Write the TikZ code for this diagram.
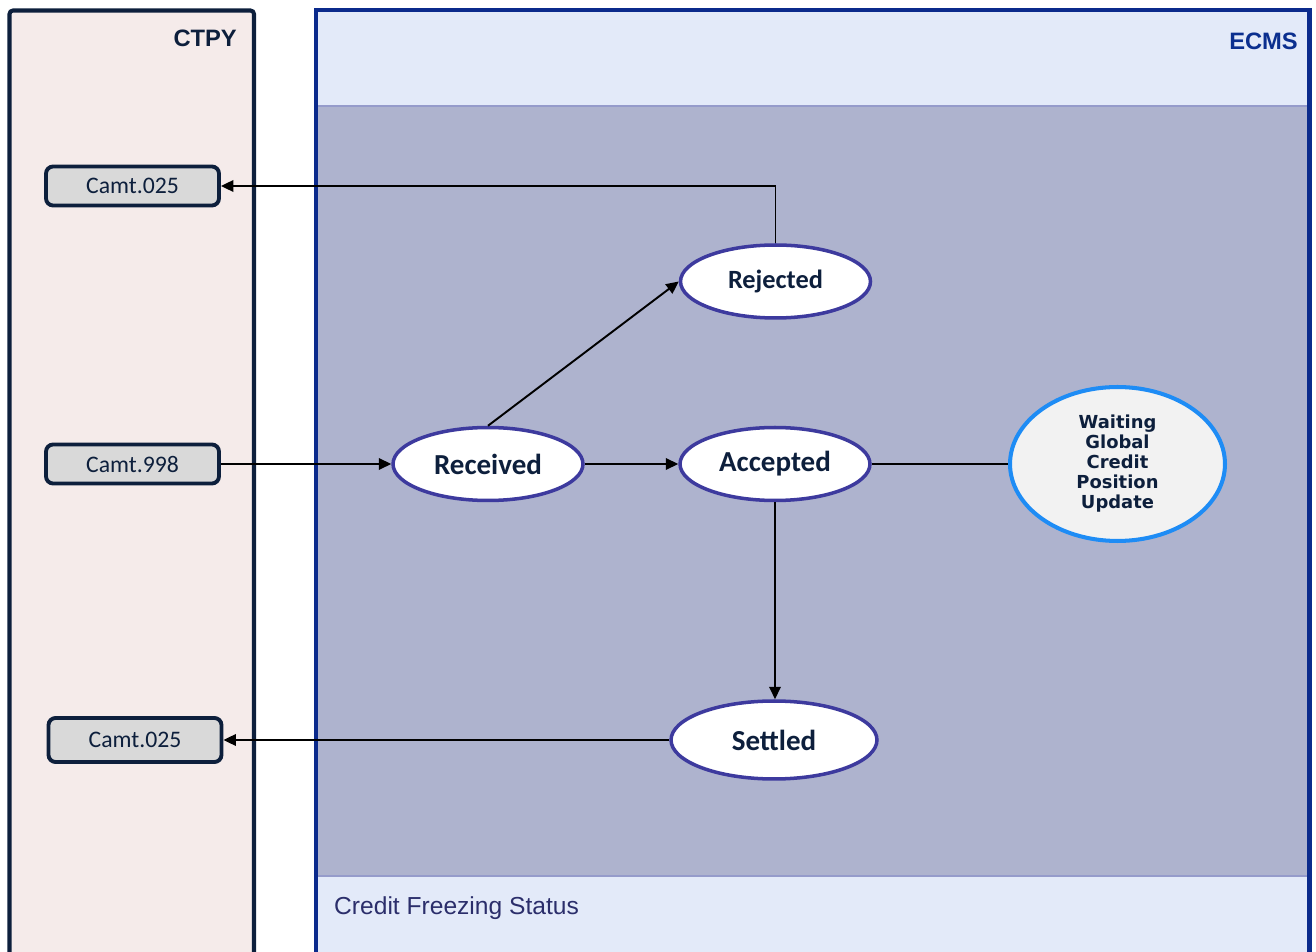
\documentclass[tikz,border=0pt]{standalone}
\usepackage{fontspec}
\setmainfont{Carlito}
\newfontfamily\arialfont{Liberation Sans}
\newfontfamily\verdanafont{DejaVu Sans}
\usepackage{tikz}
\usetikzlibrary{shapes.geometric, arrows.meta, positioning, calc}
\definecolor{ctpyfill}{HTML}{F5EBEA}
\definecolor{ctpyline}{HTML}{0D1F3C}
\definecolor{ecmsline}{HTML}{0B2A8C}
\definecolor{ecmsband}{HTML}{E3EAF9}
\definecolor{ecmsbody}{HTML}{AEB3CE}
\definecolor{ecmssep}{HTML}{959BCB}
\definecolor{msgfill}{HTML}{D9D9D9}
\definecolor{statusline}{HTML}{3D3A9E}
\definecolor{waitline}{HTML}{1E8CF5}
\definecolor{waitfill}{HTML}{F2F2F2}
\definecolor{darktext}{HTML}{0D1F3C}
\definecolor{ecmstext}{HTML}{0B2F8F}
\definecolor{notetext}{HTML}{2B2E6B}

\begin{document}
\begin{tikzpicture}[
    x=0.02cm, y=-0.02cm,
    msgbox/.style={
        rectangle,
        rounded corners=4pt,
        draw=ctpyline,
        fill=msgfill,
        line width=2.2pt,
        minimum width=3.46cm,
        minimum height=0.78cm,
        text=darktext,
        font=\fontsize{13.5}{16}\selectfont
    },
    status/.style={
        ellipse,
        draw=statusline,
        fill=white,
        line width=2pt,
        minimum width=3.8cm,
        minimum height=1.46cm,
        inner sep=0pt,
        text=darktext,
        font=\bfseries\fontsize{16.5}{20}\selectfont
    },
    waitstate/.style={
        ellipse,
        draw=waitline,
        fill=waitfill,
        line width=2.3pt,
        minimum width=4.3cm,
        minimum height=3.08cm,
        inner sep=0pt,
        align=center,
        text=darktext,
        font=\verdanafont\bfseries\fontsize{10.2}{11.4}\selectfont
    },
    myarrow/.style={
        -{Triangle[length=2.5mm, width=2.3mm]},
        line width=1.1pt,
        draw=black
    },
    myline/.style={
        line width=1.1pt,
        draw=black
    },
    lanetitle/.style={
        anchor=east,
        font=\arialfont\bfseries\fontsize{13.5}{16}\selectfont
    }
]
\useasboundingbox (0,0) rectangle (1316,952);

% Lanes
\draw[ctpyline, fill=ctpyfill, line width=2.3pt, rounded corners=2pt] (9.5,10.5) rectangle (254,985);
\fill[ecmsband] (316,10) rectangle (1309.5,985);
\fill[ecmsbody] (316,106) rectangle (1309.5,876);
\draw[ecmssep, line width=1.5pt] (316,106) -- (1309.5,106);
\draw[ecmssep, line width=1.5pt] (316,876) -- (1309.5,876);
\draw[ecmsline, line width=2.3pt] (316,985) -- (316,10) -- (1309.5,10) -- (1309.5,985);

% Lane titles
\node[lanetitle, text=ctpyline] (ctpy) at (243,38) {CTPY};
\node[lanetitle, text=ecmstext] (ecms) at (1304,41) {ECMS};
\node[anchor=west, text=notetext, font=\arialfont\fontsize{14}{16}\selectfont] (freeze) at (328,908) {Credit Freezing Status};

% Messages
\node[msgbox] (camtA) at (132.5,186) {Camt.025};
\node[msgbox] (camtB) at (132.5,464) {Camt.998};
\node[msgbox, minimum height=0.88cm] (camtC) at (135,740) {Camt.025};

% States
\node[status] (recv) at (488,464) {Received};
\node[status] (acc) at (775,464) {Accepted};
\node[status, font=\bfseries\fontsize{15}{18}\selectfont] (rej) at (775.5,281.5) {Rejected};
\node[status, minimum width=4.12cm, minimum height=1.56cm] (sett) at (774,740) {Settled};
\node[waitstate] (wait) at (1117.5,464) {Waiting\\Global\\Credit\\Position\\Update};

% Arrows
\draw[myarrow] (camtB) -- (recv);
\draw[myarrow] (recv) -- (acc);
\draw[myarrow] (recv.north) -- (rej.west);
\draw[myarrow] (rej.north) |- (camtA.east);
\draw[myline] (acc) -- (wait);
\draw[myarrow] (acc.south) -- (acc.south |- sett.north);
\draw[myarrow] (sett) -- (camtC);

\end{tikzpicture}
\end{document}
